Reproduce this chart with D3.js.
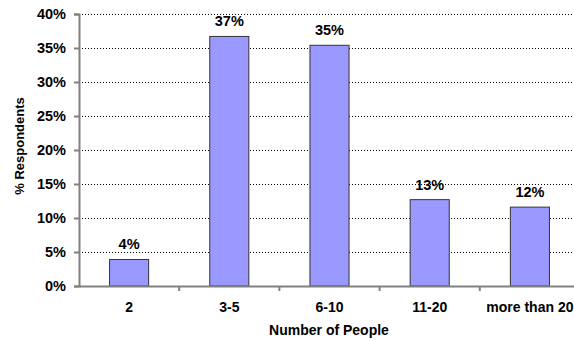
<!DOCTYPE html>
<html>
<head>
<meta charset="utf-8">
<script src="https://cdn.jsdelivr.net/npm/d3@7"></script>
<style>
  body { margin: 0; background: #fff; }
  text { font-family: "Liberation Sans", Arial, sans-serif; font-weight: bold; fill: #000; }
</style>
</head>
<body>
<svg width="574" height="341"></svg>
<script>
const categories = ["2", "3-5", "6-10", "11-20", "more than 20"]
const values = [3.9, 36.7, 35.4, 12.7, 11.6]
const valueLabels = ["4%", "37%", "35%", "13%", "12%"]
const yTicks = [0, 5, 10, 15, 20, 25, 30, 35, 40]

const svg = d3.select("svg")

const x = d3.scaleBand()
    .domain(categories)
    .range([79, 580])
    .paddingInner(0.61)
    .paddingOuter(0.305)

const y = d3.scaleLinear()
    .domain([0, 40])
    .range([286, 14])

// dotted gridlines
svg.append("g")
    .selectAll("line")
    .data(yTicks.filter(d => d > 0))
    .enter()
    .append("line")
    .attr("x1", 79)
    .attr("x2", 574)
    .attr("y1", d => y(d) + 0.5)
    .attr("y2", d => y(d) + 0.5)
    .attr("stroke", "#000")
    .attr("stroke-width", 1)
    .attr("stroke-dasharray", "1,2")

// bars
svg.append("g")
    .selectAll("rect")
    .data(values)
    .enter()
    .append("rect")
    .attr("x", (d, i) => x(categories[i]))
    .attr("y", d => y(d))
    .attr("width", x.bandwidth())
    .attr("height", d => y(0) - y(d))
    .attr("fill", "#9999ff")
    .attr("stroke", "#333")
    .attr("stroke-width", 1)

// value labels
svg.append("g")
    .selectAll("text")
    .data(values)
    .enter()
    .append("text")
    .attr("x", (d, i) => x(categories[i]) + x.bandwidth() / 2)
    .attr("y", d => y(d) - 10)
    .attr("text-anchor", "middle")
    .style("font-size", "14.5px")
    .text((d, i) => valueLabels[i])

// y axis
const yAxis = d3.axisLeft(y)
    .tickValues(yTicks)
    .tickFormat(d => d + "%")
    .tickSize(5)
    .tickPadding(8)

const gy = svg.append("g")
    .attr("transform", "translate(79,0)")
    .call(yAxis)
gy.select(".domain").attr("stroke", "#808080").attr("stroke-width", 2)
gy.selectAll(".tick line").attr("stroke", "#808080").attr("stroke-width", 2)
gy.selectAll(".tick text")
    .style("font-size", "14.5px")
    .style("font-family", "Liberation Sans, Arial, sans-serif")
    .style("font-weight", "bold")
    .attr("fill", "#000")

// x axis
const xAxis = d3.axisBottom(x).tickSize(0).tickPadding(16)
const gx = svg.append("g")
    .attr("transform", "translate(0,286)")
    .call(xAxis)
gx.select(".domain").attr("stroke", "#808080").attr("stroke-width", 2)
gx.selectAll(".tick text")
    .style("font-size", "14px")
    .style("font-family", "Liberation Sans, Arial, sans-serif")
    .style("font-weight", "bold")
    .attr("fill", "#000")

// tick marks between categories
gx.append("g")
    .selectAll("line")
    .data(categories.slice(1))
    .enter()
    .append("line")
    .attr("x1", d => x(d) - x.step() * x.paddingInner() / 2)
    .attr("x2", d => x(d) - x.step() * x.paddingInner() / 2)
    .attr("y1", 0)
    .attr("y2", 5)
    .attr("stroke", "#808080")
    .attr("stroke-width", 2)

// axis titles
svg.append("text")
    .attr("x", 329)
    .attr("y", 335)
    .attr("text-anchor", "middle")
    .style("font-size", "14px")
    .text("Number of People")

svg.append("text")
    .attr("transform", "translate(24,146) rotate(-90)")
    .attr("text-anchor", "middle")
    .style("font-size", "13px")
    .text("% Respondents")
</script>
</body>
</html>
